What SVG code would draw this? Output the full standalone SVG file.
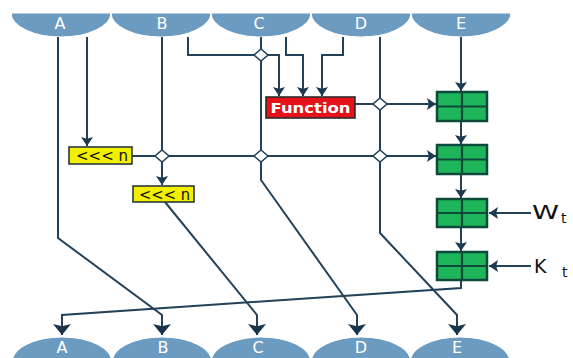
<svg xmlns="http://www.w3.org/2000/svg" width="573" height="358" viewBox="0 0 573 358">
<defs>
<style>
.reg{fill:#6b9bc1;stroke:#fff;stroke-width:1.2}
.lbl{font-family:"DejaVu Sans",sans-serif;font-size:16px;fill:#fff;text-anchor:middle}
.ln{fill:none;stroke:#234259;stroke-width:2}
.dia{fill:#fff;stroke:#234259;stroke-width:1.6}
.grn{fill:#1fb55a;stroke:#0e4a3c;stroke-width:2.5}
.gx{stroke:#0e4a3c;stroke-width:2.2}
.yel{fill:#f2ef00;stroke:#2b3a3a;stroke-width:1.6}
.ytx{font-family:"DejaVu Sans",sans-serif;font-size:15px;fill:#111}
.sym{font-family:"DejaVu Sans",sans-serif;fill:#111}
</style>
<marker id="am" viewBox="0 0 10 10" refX="10" refY="5" markerWidth="9" markerHeight="12" orient="auto" markerUnits="userSpaceOnUse" preserveAspectRatio="none">
<path d="M0,0 L10,5 L0,10 L2,5 z" fill="#1d3a51"/>
</marker>
<marker id="ab" viewBox="0 0 10 10" refX="10" refY="5" markerWidth="11" markerHeight="18" orient="auto" markerUnits="userSpaceOnUse" preserveAspectRatio="none">
<path d="M0,0 L10,5 L0,10 L2,5 z" fill="#1a354b"/>
</marker>
</defs>

<g id="top-regs">
<g id="top-A"><path class="reg" d="M11,13 A50,24 0 0 0 111,13 Z"/><text class="lbl" x="60" y="29">A</text></g>
<g id="top-B"><path class="reg" d="M111,13 A50,24 0 0 0 211,13 Z"/><text class="lbl" x="162" y="29">B</text></g>
<g id="top-C"><path class="reg" d="M211,13 A50,24 0 0 0 311,13 Z"/><text class="lbl" x="259" y="29">C</text></g>
<g id="top-D"><path class="reg" d="M311,13 A50,24 0 0 0 411,13 Z"/><text class="lbl" x="361" y="29">D</text></g>
<g id="top-E"><path class="reg" d="M411,13 A50,24 0 0 0 511,13 Z"/><text class="lbl" x="461" y="29">E</text></g>
</g>

<g id="bottom-regs">
<g id="bot-A"><ellipse class="reg" cx="62" cy="362" rx="50" ry="25"/><text class="lbl" x="62" y="353">A</text></g>
<g id="bot-B"><ellipse class="reg" cx="162" cy="362" rx="50" ry="25"/><text class="lbl" x="163" y="353">B</text></g>
<g id="bot-C"><ellipse class="reg" cx="261" cy="362" rx="50" ry="25"/><text class="lbl" x="258" y="353">C</text></g>
<g id="bot-D"><ellipse class="reg" cx="361" cy="362" rx="50" ry="25"/><text class="lbl" x="361" y="353">D</text></g>
<g id="bot-E"><ellipse class="reg" cx="460" cy="362" rx="50" ry="25"/><text class="lbl" x="457" y="353">E</text></g>
</g>

<g id="connectors">
<polyline class="ln" points="58,37 58,238 162,315 162,335" marker-end="url(#ab)"/>
<polyline class="ln" points="87,37 87,146" marker-end="url(#am)"/>
<polyline class="ln" points="162,37 162,185" marker-end="url(#am)"/>
<polyline class="ln" points="188,37 188,55 279,55 279,96" marker-end="url(#am)"/>
<polyline class="ln" points="261,37 261,180 357,315 357,335" marker-end="url(#ab)"/>
<polyline class="ln" points="286,37 286,55 303,55 303,96" marker-end="url(#am)"/>
<polyline class="ln" points="343,37 343,55 322,55 322,96" marker-end="url(#am)"/>
<polyline class="ln" points="380,37 380,233 457,315 457,335" marker-end="url(#ab)"/>
<polyline class="ln" points="461,37 461,91" marker-end="url(#am)"/>
<polyline class="ln" points="132,156 436,156" marker-end="url(#am)"/>
<polyline class="ln" points="355,104 436,104" marker-end="url(#am)"/>
<polyline class="ln" points="165,202 257,315 257,335" marker-end="url(#ab)"/>
<polyline class="ln" points="461,121 461,144" marker-end="url(#am)"/>
<polyline class="ln" points="461,174 461,198" marker-end="url(#am)"/>
<polyline class="ln" points="461,227 461,251" marker-end="url(#am)"/>
<polyline class="ln" points="531,213 489,213" marker-end="url(#am)"/>
<polyline class="ln" points="531,266 489,266" marker-end="url(#am)"/>
<polyline class="ln" points="461,280 461,288 62,315 62,335" marker-end="url(#ab)"/>
</g>

<g id="junctions">
<path class="dia" d="M261,49 L268,55 L261,61 L254,55 Z"/>
<path class="dia" d="M380,98 L387,104 L380,110 L373,104 Z"/>
<path class="dia" d="M162,150 L169,156 L162,162 L155,156 Z"/>
<path class="dia" d="M261,150 L268,156 L261,162 L254,156 Z"/>
<path class="dia" d="M380,150 L387,156 L380,162 L373,156 Z"/>
</g>

<g id="function">
<rect x="266" y="97" width="89" height="21" fill="#e5121b" stroke="#2b2b2b" stroke-width="1.6"/>
<text x="310.5" y="112.5" font-family="DejaVu Sans, sans-serif" font-weight="bold" font-size="14" fill="#fff" text-anchor="middle" textLength="80" lengthAdjust="spacingAndGlyphs">Function</text>
</g>

<g id="shift1">
<rect class="yel" x="69" y="147" width="63" height="17"/>
<text class="ytx" x="76" y="161" textLength="52" lengthAdjust="spacingAndGlyphs">&lt;&lt;&lt; n</text>
</g>
<g id="shift2">
<rect class="yel" x="133" y="186" width="61" height="16"/>
<text class="ytx" x="139" y="199.5" textLength="51" lengthAdjust="spacingAndGlyphs">&lt;&lt;&lt; n</text>
</g>

<g id="add1"><rect class="grn" x="437" y="92" width="50" height="29"/><line class="gx" x1="462" y1="92" x2="462" y2="121"/><line class="gx" x1="437" y1="106.5" x2="487" y2="106.5"/></g>
<g id="add2"><rect class="grn" x="437" y="145" width="50" height="29"/><line class="gx" x1="462" y1="145" x2="462" y2="174"/><line class="gx" x1="437" y1="159.5" x2="487" y2="159.5"/></g>
<g id="add3"><rect class="grn" x="437" y="199" width="50" height="28"/><line class="gx" x1="462" y1="199" x2="462" y2="227"/><line class="gx" x1="437" y1="213" x2="487" y2="213"/></g>
<g id="add4"><rect class="grn" x="437" y="252" width="50" height="28"/><line class="gx" x1="462" y1="252" x2="462" y2="280"/><line class="gx" x1="437" y1="266" x2="487" y2="266"/></g>

<g id="Wt"><text class="sym" x="532" y="219" font-size="20" textLength="27" lengthAdjust="spacingAndGlyphs">W</text><text class="sym" x="561" y="223" font-size="14">t</text></g>
<g id="Kt"><text class="sym" x="534" y="273" font-size="19">K</text><text class="sym" x="562" y="277" font-size="14">t</text></g>
</svg>
